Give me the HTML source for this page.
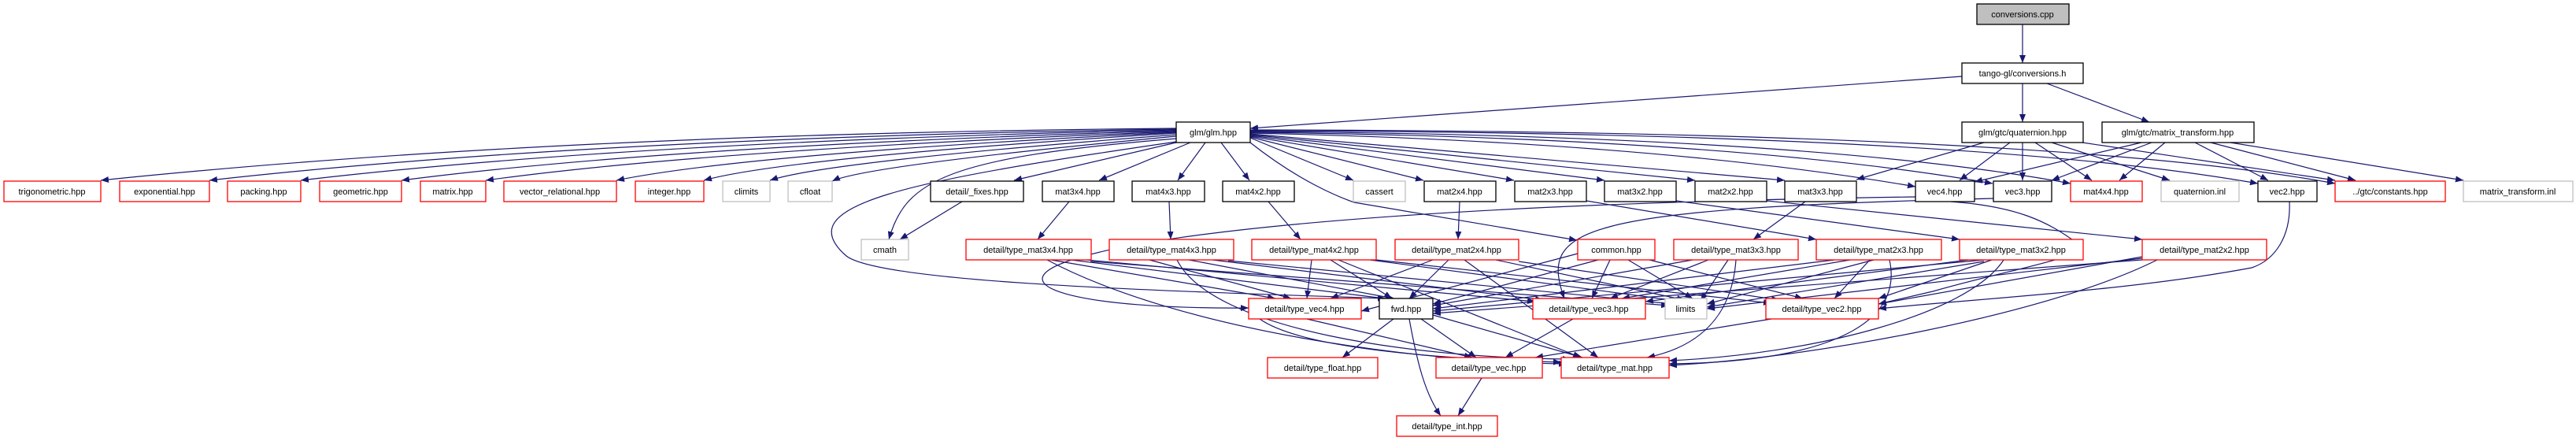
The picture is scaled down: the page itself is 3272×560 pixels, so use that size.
<!DOCTYPE html>
<html><head><meta charset="utf-8"><style>
html,body{margin:0;padding:0;background:#fff;}
svg{display:block;}
text{font-family:"Liberation Sans",sans-serif;font-size:11px;fill:#000;text-anchor:middle;}
.e{fill:none;stroke:#191970;stroke-width:1.2;marker-end:url(#a);}
.b{fill:#fff;stroke:#000;stroke-width:1.3;}
.r{fill:#fff;stroke:#ff0000;stroke-width:1.3;}
.g{fill:#fff;stroke:#bfbfbf;stroke-width:1.3;}
</style></head><body>
<svg width="3272" height="560" viewBox="0 0 3272 560" xmlns="http://www.w3.org/2000/svg">
<defs><marker id="a" markerUnits="userSpaceOnUse" markerWidth="11" markerHeight="8" refX="10" refY="4" orient="auto"><path d="M0,0 L10,4 L0,8 z" fill="#191970"/></marker></defs>
<g>
<!-- top -->
<path class="e" d="M2569,31 L2569,80"/>
<path class="e" d="M2569,106 L2569,155"/>
<path class="e" d="M2600,106 L2730,155"/>
<path class="e" d="M2492,97 L1588,163"/>
<!-- glm to left -->
<path class="e" d="M1494,163 Q700,170 128,229"/>
<path class="e" d="M1494,164 Q750,175 266,229"/>
<path class="e" d="M1494,165 Q800,180 382,229"/>
<path class="e" d="M1494,166 Q850,185 510,229"/>
<path class="e" d="M1494,167 Q900,190 617,229"/>
<path class="e" d="M1494,168 Q950,195 783,229"/>
<path class="e" d="M1494,169 Q1000,200 894,229"/>
<path class="e" d="M1494,171 Q1050,205 978,229"/>
<path class="e" d="M1494,173 Q1100,210 1057,230"/>
<path class="e" d="M1494,176 C1200,200 1150,230 1129,304"/>
<path class="e" d="M1494,180 C1150,230 1000,260 1075,325 C1120,360 1500,370 1760,379"/>
<path class="e" d="M1494,181 L1288,229"/>
<path class="e" d="M1512,181 L1396,229"/>
<path class="e" d="M1531,181 L1496,229"/>
<path class="e" d="M1551,181 L1587,229"/>
<path class="e" d="M1588,175 L1719,229"/>
<path class="e" d="M1588,174 L1808,229"/>
<path class="e" d="M1588,173 L1923,229"/>
<path class="e" d="M1588,172 L2038,229"/>
<path class="e" d="M1588,171 L2153,229"/>
<path class="e" d="M1588,170 L2267,229"/>
<path class="e" d="M1588,169 Q2100,180 2433,237"/>
<path class="e" d="M1588,168 Q2200,175 2531,233"/>
<path class="e" d="M1588,167 Q2300,172 2630,233"/>
<path class="e" d="M1588,166 Q2500,168 2868,233"/>
<path class="e" d="M1588,165 Q2600,166 2966,233"/>
<path class="e" d="M1588,181 C1650,230 1700,250 1720,257 L2003,305"/>
<!-- quaternion -->
<path class="e" d="M2520,181 Q2420,210 2358,228"/>
<path class="e" d="M2553,181 L2489,229"/>
<path class="e" d="M2569,181 L2569,229"/>
<path class="e" d="M2585,181 L2657,229"/>
<path class="e" d="M2606,181 L2756,229"/>
<path class="e" d="M2645,181 L2966,229"/>
<!-- matrix_transform -->
<path class="e" d="M2720,181 L2508,231"/>
<path class="e" d="M2733,181 L2606,229"/>
<path class="e" d="M2750,181 L2692,229"/>
<path class="e" d="M2788,181 L2881,229"/>
<path class="e" d="M2808,181 L2992,229"/>
<path class="e" d="M2833,181 L3129,229"/>
<!-- row3 to row4 -->
<path class="e" d="M1222,256 L1143,304"/>
<path class="e" d="M1358,256 L1318,304"/>
<path class="e" d="M1485,256 L1487,304"/>
<path class="e" d="M1611,256 L1652,304"/>
<path class="e" d="M1854,256 L1852,304"/>
<path class="e" d="M2015,255 L2307,304"/>
<path class="e" d="M2129,255 L2489,304"/>
<path class="e" d="M2244,255 L2721,304"/>
<path class="e" d="M2293,256 L2227,304"/>
<path class="e" d="M2908,256 C2910,300 2890,330 2860,340 C2700,370 2500,380 2386,392"/>
<path class="e" d="M2532,252 C2000,265 1955,290 1987,379"/>
<path class="e" d="M2433,250 C1150,268 1150,395 1586,391"/>
<path class="e" d="M2478,256 C2560,262 2600,280 2640,310 C2660,325 2560,340 2455,370 L2386,386"/>
<!-- row4 to row5/6 -->
<path class="e" d="M1335,330 L1620,379"/>
<path class="e" d="M1360,330 L1775,381"/>
<path class="e" d="M1380,330 L1950,383"/>
<path class="e" d="M1385,332 L2120,388"/>
<path class="e" d="M1330,330 C1500,420 1800,460 1990,462"/>
<path class="e" d="M1460,330 L1640,379"/>
<path class="e" d="M1510,330 L1770,379"/>
<path class="e" d="M1540,330 L1960,381"/>
<path class="e" d="M1560,331 L2125,386"/>
<path class="e" d="M1495,330 C1540,420 1800,455 1995,456"/>
<path class="e" d="M1666,330 L1660,379"/>
<path class="e" d="M1690,330 L1768,379"/>
<path class="e" d="M1740,330 L2130,382"/>
<path class="e" d="M1748,330 L2250,385"/>
<path class="e" d="M1700,330 L2008,454"/>
<path class="e" d="M1820,330 L1690,379"/>
<path class="e" d="M1840,330 L1790,379"/>
<path class="e" d="M1900,330 L2140,381"/>
<path class="e" d="M1929,332 L2260,381"/>
<path class="e" d="M1860,330 L2030,454"/>
<path class="e" d="M2030,330 L1820,386"/>
<path class="e" d="M2045,330 L2022,379"/>
<path class="e" d="M2068,330 L2150,379"/>
<path class="e" d="M2095,330 L2290,379"/>
<path class="e" d="M2004,322 L1729,395"/>
<path class="e" d="M2150,330 L1820,388"/>
<path class="e" d="M2170,330 L2045,379"/>
<path class="e" d="M2195,330 L2160,382"/>
<path class="e" d="M2205,330 C2200,400 2160,440 2092,454"/>
<path class="e" d="M2330,330 L1820,392"/>
<path class="e" d="M2350,330 L2060,379"/>
<path class="e" d="M2380,330 L2168,386"/>
<path class="e" d="M2375,330 L2330,379"/>
<path class="e" d="M2400,330 C2420,420 2300,460 2120,462"/>
<path class="e" d="M2520,330 L1820,395"/>
<path class="e" d="M2500,330 L2090,383"/>
<path class="e" d="M2520,332 L2168,390"/>
<path class="e" d="M2530,330 L2386,379"/>
<path class="e" d="M2545,330 C2500,400 2300,450 2120,458"/>
<path class="e" d="M2721,330 L1820,398"/>
<path class="e" d="M2721,328 L2168,392"/>
<path class="e" d="M2721,326 L2386,386"/>
<path class="e" d="M2740,330 C2600,400 2300,455 2120,464"/>
<!-- row5 to row6/7 -->
<path class="e" d="M1660,405 L1870,454"/>
<path class="e" d="M1600,405 C1650,440 1800,455 1983,460"/>
<path class="e" d="M1770,405 L1705,454"/>
<path class="e" d="M1805,405 L1875,454"/>
<path class="e" d="M1820,400 L2010,454"/>
<path class="e" d="M1790,405 C1800,460 1810,500 1830,528"/>
<path class="e" d="M1998,405 L1912,454"/>
<path class="e" d="M2250,405 L1950,454"/>
<path class="e" d="M1882,480 L1852,528"/>
</g>
<!-- nodes -->
<g>
<rect x="2511" y="5" width="117" height="26" fill="#bfbfbf" stroke="#000" stroke-width="1.3"/><text x="2569" y="22">conversions.cpp</text>
<rect class="b" x="2492" y="80" width="154" height="26"/><text x="2569" y="97">tango-gl/conversions.h</text>
<rect class="b" x="1494" y="155" width="94" height="26"/><text x="1541" y="172">glm/glm.hpp</text>
<rect class="b" x="2492" y="155" width="154" height="26"/><text x="2569" y="172">glm/gtc/quaternion.hpp</text>
<rect class="b" x="2670" y="155" width="193" height="26"/><text x="2766" y="172">glm/gtc/matrix_transform.hpp</text>

<rect class="r" x="5" y="230" width="123" height="26"/><text x="66" y="247">trigonometric.hpp</text>
<rect class="r" x="152" y="230" width="114" height="26"/><text x="209" y="247">exponential.hpp</text>
<rect class="r" x="289" y="230" width="93" height="26"/><text x="335" y="247">packing.hpp</text>
<rect class="r" x="406" y="230" width="104" height="26"/><text x="458" y="247">geometric.hpp</text>
<rect class="r" x="534" y="230" width="83" height="26"/><text x="575" y="247">matrix.hpp</text>
<rect class="r" x="640" y="230" width="143" height="26"/><text x="711" y="247">vector_relational.hpp</text>
<rect class="r" x="807" y="230" width="87" height="26"/><text x="850" y="247">integer.hpp</text>
<rect class="g" x="918" y="230" width="60" height="26"/><text x="948" y="247">climits</text>
<rect class="g" x="1001" y="230" width="56" height="26"/><text x="1029" y="247">cfloat</text>
<rect class="b" x="1182" y="230" width="118" height="26"/><text x="1241" y="247">detail/_fixes.hpp</text>
<rect class="b" x="1324" y="230" width="91" height="26"/><text x="1369" y="247">mat3x4.hpp</text>
<rect class="b" x="1438" y="230" width="92" height="26"/><text x="1484" y="247">mat4x3.hpp</text>
<rect class="b" x="1553" y="230" width="91" height="26"/><text x="1598" y="247">mat4x2.hpp</text>
<rect class="g" x="1719" y="230" width="66" height="26"/><text x="1752" y="247">cassert</text>
<rect class="b" x="1809" y="230" width="91" height="26"/><text x="1854" y="247">mat2x4.hpp</text>
<rect class="b" x="1924" y="230" width="91" height="26"/><text x="1969" y="247">mat2x3.hpp</text>
<rect class="b" x="2038" y="230" width="91" height="26"/><text x="2083" y="247">mat3x2.hpp</text>
<rect class="b" x="2153" y="230" width="91" height="26"/><text x="2198" y="247">mat2x2.hpp</text>
<rect class="b" x="2267" y="230" width="91" height="26"/><text x="2312" y="247">mat3x3.hpp</text>
<rect class="b" x="2433" y="230" width="75" height="26"/><text x="2470" y="247">vec4.hpp</text>
<rect class="b" x="2532" y="230" width="74" height="26"/><text x="2569" y="247">vec3.hpp</text>
<rect class="r" x="2630" y="230" width="91" height="26"/><text x="2675" y="247">mat4x4.hpp</text>
<rect class="g" x="2745" y="230" width="99" height="26"/><text x="2794" y="247">quaternion.inl</text>
<rect class="b" x="2868" y="230" width="75" height="26"/><text x="2905" y="247">vec2.hpp</text>
<rect class="r" x="2966" y="230" width="140" height="26"/><text x="3036" y="247">../gtc/constants.hpp</text>
<rect class="g" x="3129" y="230" width="139" height="26"/><text x="3198" y="247">matrix_transform.inl</text>

<rect class="g" x="1094" y="304" width="60" height="26"/><text x="1124" y="321">cmath</text>
<rect class="r" x="1227" y="304" width="159" height="26"/><text x="1306" y="321">detail/type_mat3x4.hpp</text>
<rect class="r" x="1409" y="304" width="158" height="26"/><text x="1488" y="321">detail/type_mat4x3.hpp</text>
<rect class="r" x="1590" y="304" width="158" height="26"/><text x="1669" y="321">detail/type_mat4x2.hpp</text>
<rect class="r" x="1772" y="304" width="157" height="26"/><text x="1850" y="321">detail/type_mat2x4.hpp</text>
<rect class="r" x="2004" y="304" width="98" height="26"/><text x="2053" y="321">common.hpp</text>
<rect class="r" x="2126" y="304" width="158" height="26"/><text x="2205" y="321">detail/type_mat3x3.hpp</text>
<rect class="r" x="2307" y="304" width="159" height="26"/><text x="2386" y="321">detail/type_mat2x3.hpp</text>
<rect class="r" x="2489" y="304" width="157" height="26"/><text x="2567" y="321">detail/type_mat3x2.hpp</text>
<rect class="r" x="2721" y="304" width="158" height="26"/><text x="2800" y="321">detail/type_mat2x2.hpp</text>

<rect class="r" x="1586" y="379" width="143" height="26"/><text x="1657" y="396">detail/type_vec4.hpp</text>
<rect class="b" x="1752" y="379" width="68" height="26"/><text x="1786" y="396">fwd.hpp</text>
<rect class="r" x="1947" y="379" width="143" height="26"/><text x="2018" y="396">detail/type_vec3.hpp</text>
<rect class="g" x="2115" y="379" width="53" height="26"/><text x="2141" y="396">limits</text>
<rect class="r" x="2243" y="379" width="143" height="26"/><text x="2314" y="396">detail/type_vec2.hpp</text>

<rect class="r" x="1610" y="454" width="140" height="26"/><text x="1680" y="471">detail/type_float.hpp</text>
<rect class="r" x="1824" y="454" width="135" height="26"/><text x="1891" y="471">detail/type_vec.hpp</text>
<rect class="r" x="1983" y="454" width="137" height="26"/><text x="2051" y="471">detail/type_mat.hpp</text>
<rect class="r" x="1774" y="528" width="128" height="26"/><text x="1838" y="545">detail/type_int.hpp</text>
</g>
</svg>
</body></html>
